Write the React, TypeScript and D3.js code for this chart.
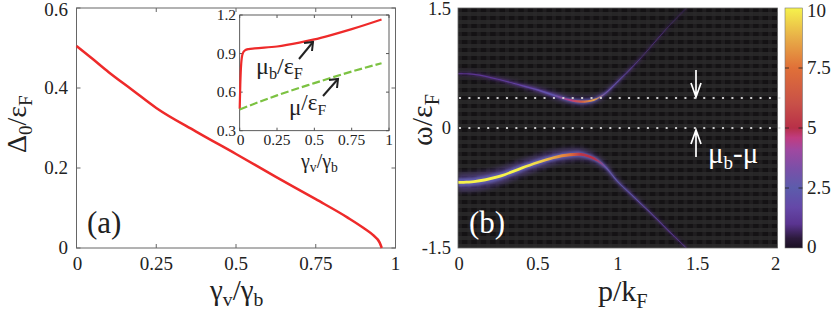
import React from "react";
import * as d3 from "d3";

const gapX = [0, 0.05, 0.1, 0.175, 0.25, 0.375, 0.5, 0.625, 0.75, 0.85, 0.9, 0.93, 0.95, 0.957];
const gapY = [0.505, 0.473, 0.44, 0.395, 0.35, 0.291, 0.235, 0.178, 0.122, 0.076, 0.05, 0.032, 0.014, 0];
const muBX = [0, 0.004, 0.01, 0.02, 0.035, 0.06, 0.1, 0.25, 0.4, 0.5, 0.6, 0.75, 0.95];
const muBY = [0.47, 0.66, 0.82, 0.9, 0.925, 0.935, 0.94, 0.955, 0.985, 1.01, 1.04, 1.09, 1.165];
const muX = [0, 0.25, 0.5, 0.75, 0.95];
const muY = [0.465, 0.575, 0.67, 0.76, 0.825];

const bandP = [0, 0.1, 0.25, 0.4, 0.5, 0.6, 0.7, 0.77, 0.85, 0.92, 1, 1.1, 1.2, 1.3, 1.43];
const upperW = [0.68, 0.67, 0.61, 0.53, 0.475, 0.41, 0.35, 0.33, 0.35, 0.43, 0.58, 0.78, 1.0, 1.23, 1.5];
const upperI = [0.9, 1, 1.2, 1.6, 1.9, 2.3, 4.5, 6.5, 8.5, 3, 2.1, 1.5, 1.1, 0.9, 0.7];
const upperH = [0.02, 0.02, 0.02, 0.02, 0.025, 0.03, 0.035, 0.04, 0.035, 0.025, 0.02, 0.014, 0.012, 0.012, 0.012];
const lowerW = [-0.68, -0.67, -0.61, -0.5, -0.43, -0.37, -0.335, -0.33, -0.38, -0.48, -0.67, -0.86, -1.05, -1.25, -1.5];
const lowerI = [10, 10, 10, 10, 9.5, 8.6, 7.5, 5.2, 5, 3, 2.6, 2.2, 1.8, 1.4, 1.1];
const lowerH = [0.085, 0.085, 0.08, 0.075, 0.07, 0.065, 0.06, 0.055, 0.045, 0.035, 0.025, 0.02, 0.015, 0.015, 0.012];

const cbVals = [0, 0.4, 1, 1.7, 2.5, 3.3, 4.1, 4.6, 5, 6, 7.5, 8.8, 10];
const cbCols = ["#1a0f22", "#2c1a3c", "#5a3490", "#6548a8", "#5c5cac", "#7a50a8", "#a048a0", "#c03c80", "#b83048", "#c85048", "#e07038", "#e8b048", "#f6f24c"];

const aXTicks = [0, 0.25, 0.5, 0.75, 1];
const aXLabels = ["0", "0.25", "0.5", "0.75", "1"];
const aYTicks = [0, 0.2, 0.4, 0.6];
const insetYTicks = [0.3, 0.6, 0.9, 1.2];
const bXTicks = [0, 0.5, 1, 1.5, 2];
const bYTicks = [-1.5, 0, 1.5];
const cbTicks = [0, 2.5, 5, 7.5, 10];
const cbLabels = ["0", "2.5", "5", "7.5", "10"];

const serif = "'Liberation Serif', serif";
const ink = "#222";
const axisCol = "#666";
const red = "#ee2a2a";
const green = "#7cc242";

const zip = (a: number[], b: number[]) => a.map((v, i) => [v, b[i]] as [number, number]);

function Sub({ x, y, size, main, sub, main2, sub2, fill = ink, transform }: any) {
  return (
    <text x={x} y={y} fontFamily={serif} fontSize={size} fill={fill} transform={transform}>
      {main}
      <tspan fontSize={size * 0.68} dy={size * 0.22}>{sub}</tspan>
      <tspan dy={-size * 0.22}>{main2}</tspan>
      <tspan fontSize={size * 0.68} dy={size * 0.22}>{sub2}</tspan>
    </text>
  );
}

function Frame({ x0, x1, y0, y1 }: any) {
  return <rect x={x0} y={y0} width={x1 - x0} height={y1 - y0} fill="none" stroke={axisCol} strokeWidth={1} />;
}

export default function App() {
  const ax = d3.scaleLinear().domain([0, 1]).range([76.5, 395.5]);
  const ay = d3.scaleLinear().domain([0, 0.6]).range([248, 8]);
  const ix = d3.scaleLinear().domain([0, 1]).range([239.7, 389]);
  const iy = d3.scaleLinear().domain([0.3, 1.2]).range([130.7, 15]);
  const bx = d3.scaleLinear().domain([0, 2]).range([458, 777.5]);
  const by = d3.scaleLinear().domain([-1.5, 1.5]).range([248, 8]);
  const cy = d3.scaleLinear().domain([0, 10]).range([248, 8]);
  const color = d3.scaleLinear<string>().domain(cbVals).range(cbCols).interpolate(d3.interpolateRgb).clamp(true);

  const lineA = d3.line().x((d) => ax(d[0])).y((d) => ay(d[1])).curve(d3.curveMonotoneX);
  const lineI = d3.line().x((d) => ix(d[0])).y((d) => iy(d[1])).curve(d3.curveMonotoneX);

  const bandArea = (w: number[], h: number[], k: number) =>
    d3
      .area<number>()
      .x((p) => bx(p))
      .y0((_, i) => by(w[i] - h[i] * k))
      .y1((_, i) => by(w[i] + h[i] * k))
      .curve(d3.curveCatmullRom)(bandP) as string;

  const gradient = (id: string, vals: number[], f: (v: number) => string) => (
    <linearGradient id={id} gradientUnits="userSpaceOnUse" x1={bx(0)} x2={bx(bandP[bandP.length - 1])} y1={0} y2={0}>
      {bandP.map((p, i) => (
        <stop key={i} offset={p / bandP[bandP.length - 1]} stopColor={f(vals[i])} />
      ))}
    </linearGradient>
  );

  const stripesH = d3.range(-1.5, 1.5, 0.1);
  const stripesV = d3.range(0, 2, 0.0588);
  const dots = d3.range(0, 2.0, 0.0588);

  const band = (name: string, w: number[], h: number[], coreK: number) => (
    <g clipPath="url(#plot)">
      <path d={bandArea(w, h, 1.35)} fill={`url(#${name}Glow)`} opacity={0.5} filter="url(#blurWide)" />
      <path d={bandArea(w, h, 0.62)} fill={`url(#${name}Mid)`} filter="url(#blurMid)" />
      <path d={bandArea(w, h.map((v) => Math.min(v, 0.05)), coreK)} fill={`url(#${name}Core)`} filter="url(#blurCore)" />
    </g>
  );

  const dottedY = [0, 0.375];

  const arrow = (x: number, yFrom: number, yTo: number) => {
    const s = yTo > yFrom ? -1 : 1;
    return (
      <path
        d={`M${x},${yFrom}L${x},${yTo}M${x - 5},${yTo + s * 14}L${x},${yTo}L${x + 5},${yTo + s * 14}`}
        fill="none"
        stroke="#fff"
        strokeWidth={1.7}
      />
    );
  };

  const darkArrow = (x0: number, y0: number, x1: number, y1: number) => (
    <g stroke="#222" fill="none" strokeWidth={2}>
      <path d={`M${x0},${y0}L${x1},${y1}`} />
      <path d={`M${x1 - 9},${y1 + 1}L${x1},${y1}L${x1 - 1},${y1 + 9}`} />
    </g>
  );

  return (
    <svg width={831} height={312} style={{ position: "absolute", left: 0, top: 0 }}>
      <defs>
        <clipPath id="plot">
          <rect x={bx(0)} y={by(1.5)} width={bx(2) - bx(0)} height={by(-1.5) - by(1.5)} />
        </clipPath>
        <filter id="blurWide" x="-5%" y="-50%" width="110%" height="200%"><feGaussianBlur stdDeviation="2.6" /></filter>
        <filter id="blurMid" x="-5%" y="-50%" width="110%" height="200%"><feGaussianBlur stdDeviation="1.1" /></filter>
        <filter id="blurCore" x="-5%" y="-50%" width="110%" height="200%"><feGaussianBlur stdDeviation="0.45" /></filter>
        <linearGradient id="cbar" x1="0" x2="0" y1="1" y2="0">
          {cbVals.map((v, i) => <stop key={i} offset={v / 10} stopColor={cbCols[i]} />)}
        </linearGradient>
        {gradient("upGlow", upperI, (v) => color(Math.min(v * 0.7, 1.6)))}
        {gradient("upMid", upperI, (v) => color(Math.min(v * 0.7, 2.5)))}
        {gradient("upCore", upperI, (v) => color(v))}
        {gradient("loGlow", lowerI, (v) => color(Math.min(v * 0.5, 1.7)))}
        {gradient("loMid", lowerI, (v) => color(Math.min(v * 0.8, 2.6)))}
        {gradient("loCore", lowerI, (v) => color(v))}
      </defs>

      {/* Panel (a) */}
      <Frame x0={ax(0)} x1={ax(1)} y0={ay(0.6)} y1={ay(0)} />
      {aXTicks.map((t, i) => (
        <g key={t}>
          <path d={`M${ax(t)},248V244M${ax(t)},8V12`} stroke={axisCol} />
          <text x={ax(t) + (i === 0 ? 1 : 0)} y={270} textAnchor="middle" fontFamily={serif} fontSize={19} fill={ink}>{aXLabels[i]}</text>
        </g>
      ))}
      {aYTicks.map((t) => (
        <g key={t}>
          <path d={`M${ax(0)},${ay(t)}h4M${ax(1)},${ay(t)}h-4`} stroke={axisCol} />
          <text x={68} y={t === 0.6 ? 16 : ay(t) + 6} textAnchor="end" fontFamily={serif} fontSize={19} fill={ink}>{t === 0 ? "0" : t.toFixed(1)}</text>
        </g>
      ))}
      <path d={lineA(zip(gapX, gapY)) as string} fill="none" stroke={red} strokeWidth={2.5} />
      <text x={87} y={233} fontFamily={serif} fontSize={31} fill={ink}>(a)</text>
      <Sub x={210} y={300} size={29} main="γ" sub="v" main2="/γ" sub2="b" />
      <Sub x={0} y={0} size={28} main="Δ" sub="0" main2="/ε" sub2="F" transform="translate(26,153) rotate(-90)" />

      {/* Inset */}
      <rect x={ix(0)} y={iy(1.2)} width={ix(1) - ix(0)} height={iy(0.3) - iy(1.2)} fill="#fff" stroke="#333" strokeWidth={0.8} />
      {aXTicks.map((t, i) => (
        <g key={t}>
          <path d={`M${ix(t)},${iy(0.3)}v-3M${ix(t)},${iy(1.2)}v3`} stroke="#555" />
          <text x={ix(t) + (i === 0 ? 1 : 0)} y={145} textAnchor="middle" fontFamily={serif} fontSize={15.5} fill={ink}>{aXLabels[i]}</text>
        </g>
      ))}
      {insetYTicks.map((t) => (
        <g key={t}>
          <path d={`M${ix(0)},${iy(t)}h3M${ix(1)},${iy(t)}h-3`} stroke="#555" />
          <text x={236} y={iy(t) + 5} textAnchor="end" fontFamily={serif} fontSize={15.5} fill={ink}>{t.toFixed(1)}</text>
        </g>
      ))}
      <path d={lineI(zip(muBX, muBY)) as string} fill="none" stroke={red} strokeWidth={2.2} />
      <path d={lineI(zip(muX, muY)) as string} fill="none" stroke={green} strokeWidth={2.2} strokeDasharray="8 3" />
      {darkArrow(299, 59, 313, 42)}
      {darkArrow(323, 96, 338, 79)}
      <Sub x={256} y={74} size={24} main="μ" sub="b" main2="/ε" sub2="F" />
      <Sub x={289} y={115} size={23} main="μ" sub="" main2="/ε" sub2="F" />
      <Sub x={301} y={168} size={20} main="γ" sub="v" main2="/γ" sub2="b" />

      {/* Panel (b) */}
      <rect x={bx(0)} y={by(1.5)} width={bx(2) - bx(0)} height={by(-1.5) - by(1.5)} fill="#141214" />
      <g clipPath="url(#plot)">
        {stripesH.map((w) => (
          <rect key={w} x={bx(0)} width={bx(2) - bx(0)} y={by(w + 0.05)} height={by(w) - by(w + 0.05)} fill="#3a3a3a" opacity={0.5} />
        ))}
        {stripesV.map((p) => (
          <rect key={p} x={bx(p)} width={bx(0.025) - bx(0)} y={by(1.5)} height={by(-1.5) - by(1.5)} fill="#2c2c2c" opacity={0.45} />
        ))}
      </g>
      {band("up", upperW, upperH, 0.34)}
      {band("lo", lowerW, lowerH, 0.36)}
      {dottedY.map((w) => (
        <g key={w}>
          {dots.map((p) => (
            <rect key={p} x={bx(p) + 1} y={by(w) - 1} width={2} height={2} fill="#ddd" opacity={0.9} />
          ))}
        </g>
      ))}
      {arrow(696, 70, 97)}
      {arrow(696, 157, 130)}
      <text x={708} y={163} fontFamily={serif} fontSize={29} fill="#fff">
        μ<tspan fontSize={19} dy={6}>b</tspan><tspan dy={-6}>-μ</tspan>
      </text>
      <text x={469} y={233} fontFamily={serif} fontSize={31} fill="#fff">(b)</text>
      <rect x={bx(0)} y={by(1.5)} width={bx(2) - bx(0)} height={by(-1.5) - by(1.5)} fill="none" stroke={axisCol} strokeWidth={0.8} />
      {bXTicks.map((t, i) => (
        <text key={t} x={bx(t) + (i === 0 ? 1 : i === 4 ? -2 : 0)} y={270} textAnchor="middle" fontFamily={serif} fontSize={18.5} fill={ink}>{t}</text>
      ))}
      {bYTicks.map((t) => (
        <text key={t} x={451} y={t === 1.5 ? 15 : t === -1.5 ? 254 : by(t) + 6} textAnchor="end" fontFamily={serif} fontSize={18.5} fill={ink}>{t}</text>
      ))}
      <Sub x={598} y={301} size={30} main="p/k" sub="F" main2="" sub2="" />
      <Sub x={0} y={0} size={30} main="ω/ε" sub="F" main2="" sub2="" transform="translate(432,146) rotate(-90)" />

      {/* Colour bar */}
      <rect x={785} y={cy(10)} width={17.5} height={cy(0) - cy(10)} fill="url(#cbar)" stroke="#777" strokeWidth={0.6} />
      {cbTicks.map((t, i) => (
        <g key={t}>
          {t > 0 && t < 10 && <path d={`M785,${cy(t)}h4M802.5,${cy(t)}h-4`} stroke="#222" strokeWidth={0.8} />}
          <text x={807} y={t === 10 ? 17 : t === 0 ? 253 : cy(t) + 6} fontFamily={serif} fontSize={19} fill={ink}>{cbLabels[i]}</text>
        </g>
      ))}
    </svg>
  );
}
